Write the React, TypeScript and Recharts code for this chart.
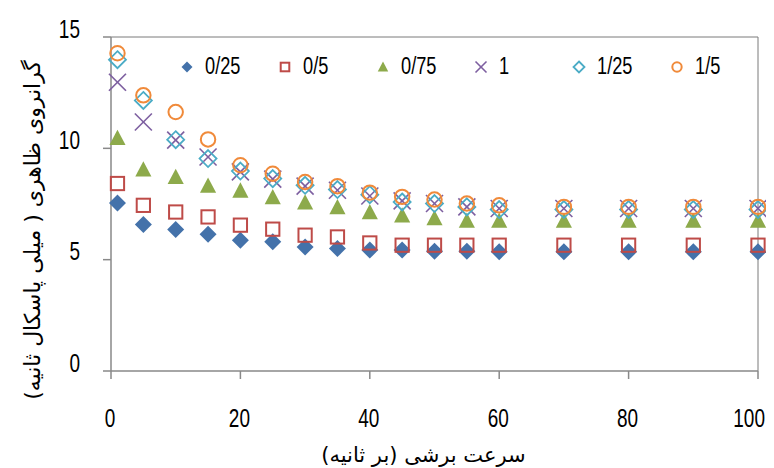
import React from 'react';
import { ScatterChart, Scatter, XAxis, YAxis, ReferenceLine, Label } from 'recharts';

// shear rate (1/s)
const shearRate = [1, 5, 10, 15, 20, 25, 30, 35, 40, 45, 50, 55, 60, 70, 80, 90, 100];

// apparent viscosity (mPa.s) per concentration
const c025 = [7.55, 6.58, 6.35, 6.14, 5.87, 5.8, 5.57, 5.5, 5.43, 5.43, 5.38, 5.38, 5.36, 5.35, 5.35, 5.35, 5.35];
const c05 = [8.42, 7.44, 7.14, 6.92, 6.55, 6.37, 6.1, 6.02, 5.75, 5.65, 5.65, 5.65, 5.65, 5.65, 5.65, 5.65, 5.65];
const c075 = [10.45, 9.04, 8.7, 8.31, 8.09, 7.79, 7.56, 7.34, 7.12, 6.97, 6.85, 6.74, 6.74, 6.74, 6.74, 6.74, 6.74];
const c1 = [12.97, 11.18, 10.37, 9.61, 8.94, 8.62, 8.3, 8.12, 7.86, 7.64, 7.52, 7.37, 7.3, 7.3, 7.3, 7.3, 7.3];
const c125 = [13.98, 12.15, 10.39, 9.54, 8.98, 8.64, 8.34, 8.15, 7.92, 7.59, 7.52, 7.37, 7.25, 7.25, 7.25, 7.25, 7.25];
const c15 = [14.27, 12.38, 11.63, 10.4, 9.24, 8.86, 8.49, 8.3, 8.01, 7.82, 7.7, 7.52, 7.44, 7.37, 7.37, 7.37, 7.37];

const xTicks = [0, 20, 40, 60, 80, 100];
const yTicks = [0, 5, 10, 15];

const NUM_FONT = '"Liberation Sans", sans-serif';
const FA_FONT = '"DejaVu Sans", sans-serif';
const AXIS = '#898989';
const NARROW = 0.76; // horizontal squeeze to imitate the condensed font

type Kind = 'diamond' | 'square' | 'triangle' | 'cross' | 'odiamond' | 'circle';

const Marker = ({ kind, cx, cy, s, color }: { kind: Kind; cx: number; cy: number; s: number; color: string }) => {
  const h = s / 2;
  switch (kind) {
    case 'diamond':
      return <polygon points={`${cx},${cy - h} ${cx + h},${cy} ${cx},${cy + h} ${cx - h},${cy}`} fill={color} />;
    case 'square':
      return <rect x={cx - h * 0.78} y={cy - h * 0.78} width={h * 1.56} height={h * 1.56} fill="none" stroke={color} strokeWidth={2} />;
    case 'triangle':
      return <polygon points={`${cx},${cy - h} ${cx + h * 0.95},${cy + h * 0.8} ${cx - h * 0.95},${cy + h * 0.8}`} fill={color} />;
    case 'cross':
      return (
        <g stroke={color} strokeWidth={1.6}>
          <line x1={cx - h} y1={cy - h} x2={cx + h} y2={cy + h} />
          <line x1={cx - h} y1={cy + h} x2={cx + h} y2={cy - h} />
        </g>
      );
    case 'odiamond':
      return <polygon points={`${cx},${cy - h} ${cx + h},${cy} ${cx},${cy + h} ${cx - h},${cy}`} fill="none" stroke={color} strokeWidth={1.8} />;
    default:
      return <circle cx={cx} cy={cy} r={h * 0.85} fill="none" stroke={color} strokeWidth={2} />;
  }
};

const series: { name: string; values: number[]; kind: Kind; color: string }[] = [
  { name: '0/25', values: c025, kind: 'diamond', color: '#4472AA' },
  { name: '0/5', values: c05, kind: 'square', color: '#BE4B48' },
  { name: '0/75', values: c075, kind: 'triangle', color: '#8DAA4B' },
  { name: '1', values: c1, kind: 'cross', color: '#7D5FA0' },
  { name: '1/25', values: c125, kind: 'odiamond', color: '#4BACC6' },
  { name: '1/5', values: c15, kind: 'circle', color: '#F08A3A' },
];

const NarrowText = ({ x, y, anchor, size, children }: any) => (
  <text
    transform={`translate(${x}, ${y}) scale(${NARROW}, 1)`}
    dy="0.35em"
    textAnchor={anchor}
    fontFamily={NUM_FONT}
    fontSize={size}
    fill="#000"
  >
    {children}
  </text>
);

// legend drawn on top of the chart, inside the plot area
const LegendOverlay = () => (
  <svg width={766} height={90} style={{ position: 'absolute', left: 0, top: 0, pointerEvents: 'none' }}>
    {series.map((s, i) => {
      const mx = 179 + i * 98;
      return (
        <g key={s.name}>
          <Marker kind={s.kind} cx={mx} cy={59} s={11} color={s.color} />
          <NarrowText x={mx + 18} y={58} anchor="start" size={24}>{s.name}</NarrowText>
        </g>
      );
    })}
  </svg>
);

const YTick = (props: any) => (
  <NarrowText x={props.x} y={props.y - 8} anchor="end" size={25}>{props.payload.value}</NarrowText>
);

// the last label would run past the page edge, so it is right-aligned there
const XTick = (props: any) => {
  const last = props.index === xTicks.length - 1;
  return (
    <NarrowText x={last ? props.x + 7 : props.x - 1} y={props.y} anchor={last ? 'end' : 'middle'} size={25}>
      {props.payload.value}
    </NarrowText>
  );
};

const YTitle = (props: any) => {
  const cx = 24;
  const cy = props.viewBox.y + props.viewBox.height / 2 + 26;
  return (
    <text x={cx} y={cy} dy="0.35em" textAnchor="middle" transform={`rotate(-90, ${cx}, ${cy})`} fontFamily={FA_FONT} fontSize={22} fill="#000">
      گرانروی ظاهری ( میلی پاسکال ثانیه)
    </text>
  );
};

const XTitle = (props: any) => {
  const cx = props.viewBox.x + props.viewBox.width / 2 - 11;
  const cy = 447;
  return (
    <text x={cx} y={cy} dy="0.35em" textAnchor="middle" fontFamily={FA_FONT} fontSize={21} fill="#000">
      سرعت برشی (بر ثانیه)
    </text>
  );
};

export default function App() {
  return (
    <div style={{ width: 766, height: 460, background: '#fff', position: 'relative' }}>
      <ScatterChart width={766} height={460} margin={{ top: 29, right: 16, bottom: 0, left: 0 }}>
        <XAxis
          type="number"
          dataKey="x"
          domain={[0, 100]}
          ticks={xTicks}
          height={97}
          tickSize={8}
          tickMargin={39}
          stroke={AXIS}
          strokeWidth={1.5}
          tick={<XTick />}
        >
          <Label content={<XTitle />} />
        </XAxis>
        <YAxis
          type="number"
          dataKey="y"
          domain={[0, 15]}
          ticks={yTicks}
          width={103}
          tickSize={8}
          tickMargin={23}
          stroke={AXIS}
          strokeWidth={1.5}
          tick={<YTick />}
        >
          <Label content={<YTitle />} />
        </YAxis>
        <ReferenceLine y={15} stroke="#7a7a7a" strokeWidth={1} />
        <ReferenceLine x={100} stroke="#7a7a7a" strokeWidth={1} />
        {series.map(s => (
          <Scatter
            key={s.name}
            name={s.name}
            data={s.values.map((v, i) => ({ x: shearRate[i], y: v }))}
            isAnimationActive={false}
            shape={(p: any) => <Marker kind={s.kind} cx={p.cx} cy={p.cy} s={17} color={s.color} />}
          />
        ))}
      </ScatterChart>
      <LegendOverlay />
    </div>
  );
}
